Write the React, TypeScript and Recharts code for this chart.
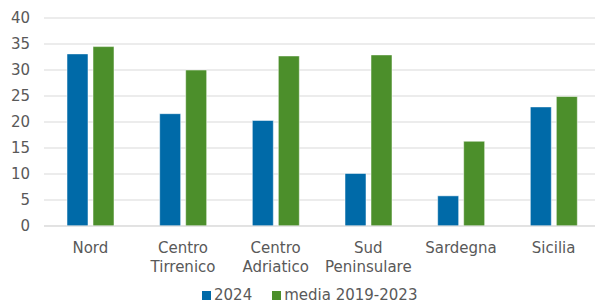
import React from 'react';
import { BarChart, Bar, XAxis, YAxis, CartesianGrid, Legend } from 'recharts';

const REGIONS = ['Nord', 'Centro\nTirrenico', 'Centro\nAdriatico', 'Sud\nPeninsulare', 'Sardegna', 'Sicilia'];
const VALUES_2024 = [33.1, 21.6, 20.3, 10.1, 5.8, 22.9];
const VALUES_MEDIA = [34.5, 30.0, 32.7, 32.9, 16.3, 24.9];
const Y_TICKS = [0, 5, 10, 15, 20, 25, 30, 35, 40];

const BLUE = '#006AA8';
const GREEN = '#4C8F2B';
const TEXT = '#595959';
const FONT = '"DejaVu Sans", Verdana, sans-serif';
const FONT_SIZE = 15;

const data = REGIONS.map((region, i) => ({
  region,
  y2024: VALUES_2024[i],
  media: VALUES_MEDIA[i],
}));

// two-line category labels, split on "\n"
const RegionTick = (props: any) => {
  const { x, y, payload } = props;
  const lines = String(payload.value).split('\n');
  return (
    <text x={x} y={y} textAnchor="middle" fill={TEXT} fontSize={FONT_SIZE} fontFamily={FONT}>
      {lines.map((line, i) => (
        <tspan key={i} x={x} dy={i === 0 ? 19 : 18.5}>{line}</tspan>
      ))}
    </text>
  );
};

const LegendContent = () => (
  <div style={{ height: 20, display: 'flex', alignItems: 'center', paddingLeft: 202, fontFamily: FONT, fontSize: FONT_SIZE, color: TEXT }}>
    <span style={{ width: 9, height: 9, background: BLUE, display: 'inline-block', marginRight: 3 }} />
    <span style={{ marginRight: 20 }}>2024</span>
    <span style={{ width: 9, height: 9, background: GREEN, display: 'inline-block', marginRight: 3 }} />
    <span>media 2019-2023</span>
  </div>
);

export default function App() {
  return (
    <div style={{ position: 'fixed', top: 0, left: 0, width: 595, height: 306, overflow: 'hidden', background: '#fff' }}>
      <BarChart width={600} height={306} data={data} barSize={21} barGap={5}
        margin={{ top: 18, right: 0, bottom: 4, left: 0 }}>
        <CartesianGrid vertical={false} stroke="#d9d9d9" />
        <XAxis dataKey="region" height={56} tick={<RegionTick />} tickLine={false}
          axisLine={{ stroke: '#d9d9d9' }} interval={0} />
        <YAxis width={44} domain={[0, 40]} ticks={Y_TICKS} tickLine={false} axisLine={false}
          tickSize={0} tickMargin={14} tick={{ fill: TEXT, fontSize: FONT_SIZE, fontFamily: FONT }} />
        <Legend verticalAlign="bottom" content={<LegendContent />}
          wrapperStyle={{ top: 285, left: 0, width: 595 }} />
        <Bar dataKey="y2024" fill={BLUE} stroke="#ffffff" strokeOpacity={0.5} isAnimationActive={false} />
        <Bar dataKey="media" fill={GREEN} stroke="#ffffff" strokeOpacity={0.5} isAnimationActive={false} />
      </BarChart>
    </div>
  );
}
